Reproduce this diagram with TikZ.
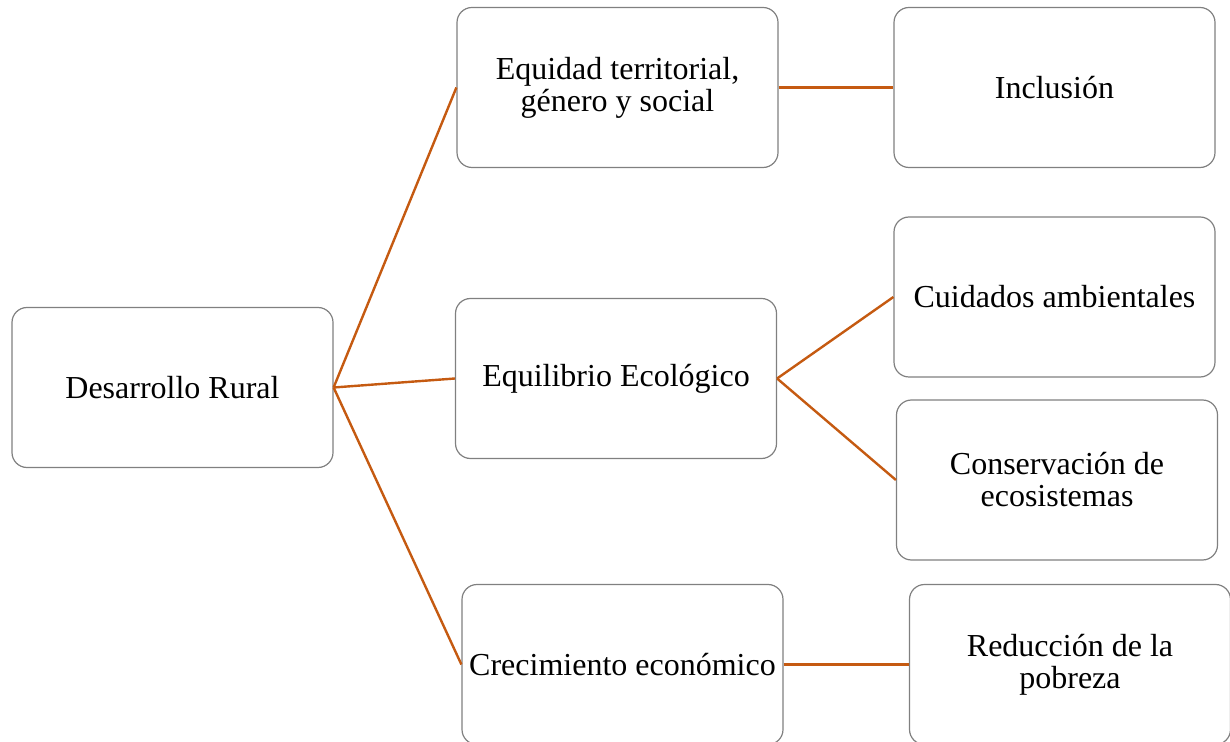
\documentclass[tikz,border=0pt]{standalone}
\usepackage{fontspec}
\setmainfont{Liberation Serif}
\usepackage{xcolor}
\usepackage{tikz}
\definecolor{edge}{HTML}{808080}
\definecolor{link}{HTML}{C55A11}
\tikzset{
  box/.style={draw=edge, line width=0.6pt, rounded corners=7.5pt, fill=white,
    minimum width=160.5pt, minimum height=80pt, inner sep=1pt, align=center,
    font=\fontsize{16}{16}\selectfont},
  conn/.style={draw=link, line width=1.2pt}
}
\begin{document}
\begin{tikzpicture}[x=0.5pt, y=-0.5pt]
  \useasboundingbox (0,0) rectangle (1230,742);

  \node[box] (DR) at (172.5,387.5) {Desarrollo Rural};
  \node[box] (ET) at (617.5,87.5) {Equidad territorial,\\ género y social};
  \node[box] (EE) at (616,378.5) {Equilibrio Ecológico};
  \node[box] (CE) at (622.5,664.5) {Crecimiento económico};
  \node[box] (IN) at (1054.5,87.5) {Inclusión};
  \node[box] (CA) at (1054.5,297) {Cuidados ambientales};
  \node[box] (CO) at (1057,480) {Conservación de\\ ecosistemas};
  \node[box] (RP) at (1070,664.5) {Reducción de la\\ pobreza};

  \draw[conn] (DR.east) -- (ET.west);
  \draw[conn] (DR.east) -- (EE.west);
  \draw[conn] (DR.east) -- (CE.west);
  \draw[conn] (ET.east) -- (IN.west);
  \draw[conn] (EE.east) -- (CA.west);
  \draw[conn] (EE.east) -- (CO.west);
  \draw[conn] (CE.east) -- (RP.west);
\end{tikzpicture}
\end{document}
